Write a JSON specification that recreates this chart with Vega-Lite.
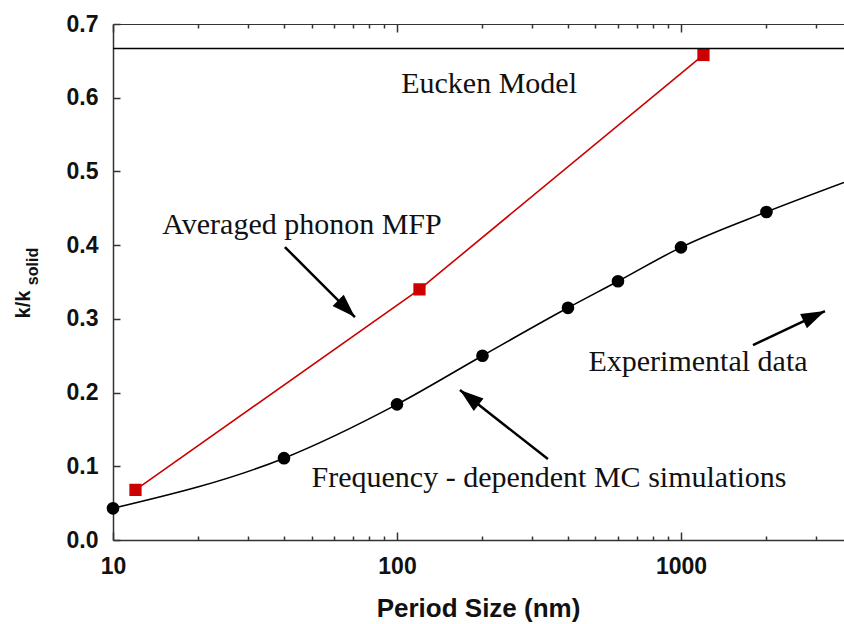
{
  "$schema": "https://vega.github.io/schema/vega-lite/v6.json",
  "width": 731,
  "height": 516,
  "autosize": "none",
  "padding": {"left": 113, "top": 24, "right": 0, "bottom": 84},
  "background": "white",
  "config": {
    "view": {"stroke": null},
    "axis": {
      "labelFont": "Liberation Sans", "labelFontWeight": "bold", "labelFontSize": 23, "labelColor": "#111",
      "titleFont": "Liberation Sans", "titleFontWeight": "bold", "titleColor": "#111",
      "domainColor": "#333", "tickColor": "#333", "grid": false, "domainWidth": 1.5, "tickWidth": 1.5
    }
  },
  "datasets": {
    "mc": [
      {"size": 10, "k": 0.043, "marker": true},
      {"size": 40, "k": 0.111, "marker": true},
      {"size": 100, "k": 0.184, "marker": true},
      {"size": 200, "k": 0.25, "marker": true},
      {"size": 400, "k": 0.315, "marker": true},
      {"size": 600, "k": 0.351, "marker": true},
      {"size": 1000, "k": 0.397, "marker": true},
      {"size": 2000, "k": 0.445, "marker": true},
      {"size": 3750, "k": 0.485, "marker": false}
    ],
    "mfp": [
      {"size": 12, "k": 0.068},
      {"size": 120, "k": 0.34},
      {"size": 1200, "k": 0.658}
    ],
    "eucken": [{"k": 0.6667}],
    "notes": [
      {"text": "Eucken Model", "size": 211, "k": 0.606},
      {"text": "Averaged phonon MFP", "size": 46.3, "k": 0.415},
      {"text": "Experimental data", "size": 1148, "k": 0.229},
      {"text": "Frequency - dependent MC simulations", "size": 343, "k": 0.0718}
    ],
    "arrows": [
      {"x": 40.3, "y": 0.3974, "x2": 71.1, "y2": 0.3024, "angle": 135},
      {"x": 340, "y": 0.1098, "x2": 166.6, "y2": 0.2034, "angle": 308},
      {"x": 1793, "y": 0.2644, "x2": 3214, "y2": 0.3106, "angle": 64.7}
    ]
  },
  "layer": [
    {
      "data": {"name": "mfp"},
      "mark": {"type": "line", "color": "#cc0000", "strokeWidth": 1.6},
      "encoding": {
        "x": {"field": "size", "type": "quantitative",
          "scale": {"type": "log", "domain": [10, 3750], "nice": false},
          "axis": {"orient": "bottom", "values": [10, 100, 1000], "tickSize": -8, "labelPadding": 23, "labelFlush": false, "format": "d",
            "title": "Period Size (nm)", "titleFontSize": 26, "titleBaseline": "alphabetic", "titleY": 76, "titleX": 365}},
        "y": {"field": "k", "type": "quantitative",
          "scale": {"domain": [0, 0.7], "nice": false, "zero": true},
          "axis": {"orient": "left", "values": [0, 0.1, 0.2, 0.3, 0.4, 0.5, 0.6, 0.7], "format": ".1f", "tickSize": -7, "labelPadding": 22, "labelFlush": false,
            "title": "k/k", "titleFontSize": 20, "titleAngle": -90, "titleAlign": "center", "titleBaseline": "alphabetic", "titleX": -84, "titleY": 280}}
      }
    },
    {
      "data": {"name": "mc"},
      "mark": {"type": "line", "color": "#000", "strokeWidth": 1.6, "interpolate": "monotone"},
      "encoding": {
        "x": {"field": "size", "type": "quantitative",
          "scale": {"type": "log", "domain": [10, 3750], "nice": false},
          "axis": {"orient": "bottom", "values": [20, 30, 40, 50, 60, 70, 80, 90, 200, 300, 400, 500, 600, 700, 800, 900, 2000, 3000], "tickSize": -4, "labels": false, "domain": false, "title": null}},
        "y": {"field": "k", "type": "quantitative",
          "scale": {"domain": [0, 0.7], "nice": false},
          "axis": {"orient": "left", "labels": false, "ticks": false, "domain": false,
            "title": "solid", "titleFontSize": 16, "titleAngle": -90, "titleAlign": "center", "titleBaseline": "alphabetic", "titleX": -76, "titleY": 242}}
      }
    },
    {
      "data": {"name": "mfp"},
      "mark": {"type": "point", "shape": "square", "filled": true, "color": "#cc0000", "size": 150, "opacity": 1},
      "encoding": {
        "x": {"field": "size", "type": "quantitative",
          "scale": {"type": "log", "domain": [10, 3750], "nice": false},
          "axis": {"orient": "top", "values": [10, 100, 1000], "tickSize": -8, "labels": false, "title": null, "domainWidth": 1.2}},
        "y": {"field": "k", "type": "quantitative", "axis": null}
      }
    },
    {
      "data": {"name": "mc"},
      "transform": [{"filter": "datum.marker"}],
      "mark": {"type": "point", "shape": "circle", "filled": true, "color": "#000", "size": 160, "opacity": 1},
      "encoding": {
        "x": {"field": "size", "type": "quantitative",
          "scale": {"type": "log", "domain": [10, 3750], "nice": false},
          "axis": {"orient": "top", "values": [20, 30, 40, 50, 60, 70, 80, 90, 200, 300, 400, 500, 600, 700, 800, 900, 2000, 3000], "tickSize": -4, "labels": false, "domain": false, "title": null}},
        "y": {"field": "k", "type": "quantitative", "axis": null}
      }
    },
    {
      "data": {"name": "eucken"},
      "mark": {"type": "rule", "color": "#000", "strokeWidth": 1.6},
      "encoding": {
        "y": {"field": "k", "type": "quantitative", "axis": null}
      }
    },
    {
      "data": {"name": "notes"},
      "mark": {"type": "text", "font": "Liberation Serif", "fontSize": 30, "align": "center", "baseline": "alphabetic", "color": "#111"},
      "encoding": {
        "x": {"field": "size", "type": "quantitative", "axis": null},
        "y": {"field": "k", "type": "quantitative", "axis": null},
        "text": {"field": "text"}
      }
    },
    {
      "data": {"name": "arrows"},
      "mark": {"type": "rule", "color": "#000", "strokeWidth": 2.5},
      "encoding": {
        "x": {"field": "x", "type": "quantitative", "axis": null},
        "y": {"field": "y", "type": "quantitative", "axis": null},
        "x2": {"field": "x2"},
        "y2": {"field": "y2"}
      }
    },
    {
      "data": {"name": "arrows"},
      "mark": {"type": "point", "shape": "M0,0L0.5,1.5L-0.5,1.5Z", "filled": true, "color": "#000", "size": 1000, "opacity": 1},
      "encoding": {
        "x": {"field": "x2", "type": "quantitative", "axis": null},
        "y": {"field": "y2", "type": "quantitative", "axis": null},
        "angle": {"field": "angle", "type": "quantitative", "scale": null}
      }
    }
  ],
  "resolve": {"axis": {"x": "independent", "y": "independent"}}
}
